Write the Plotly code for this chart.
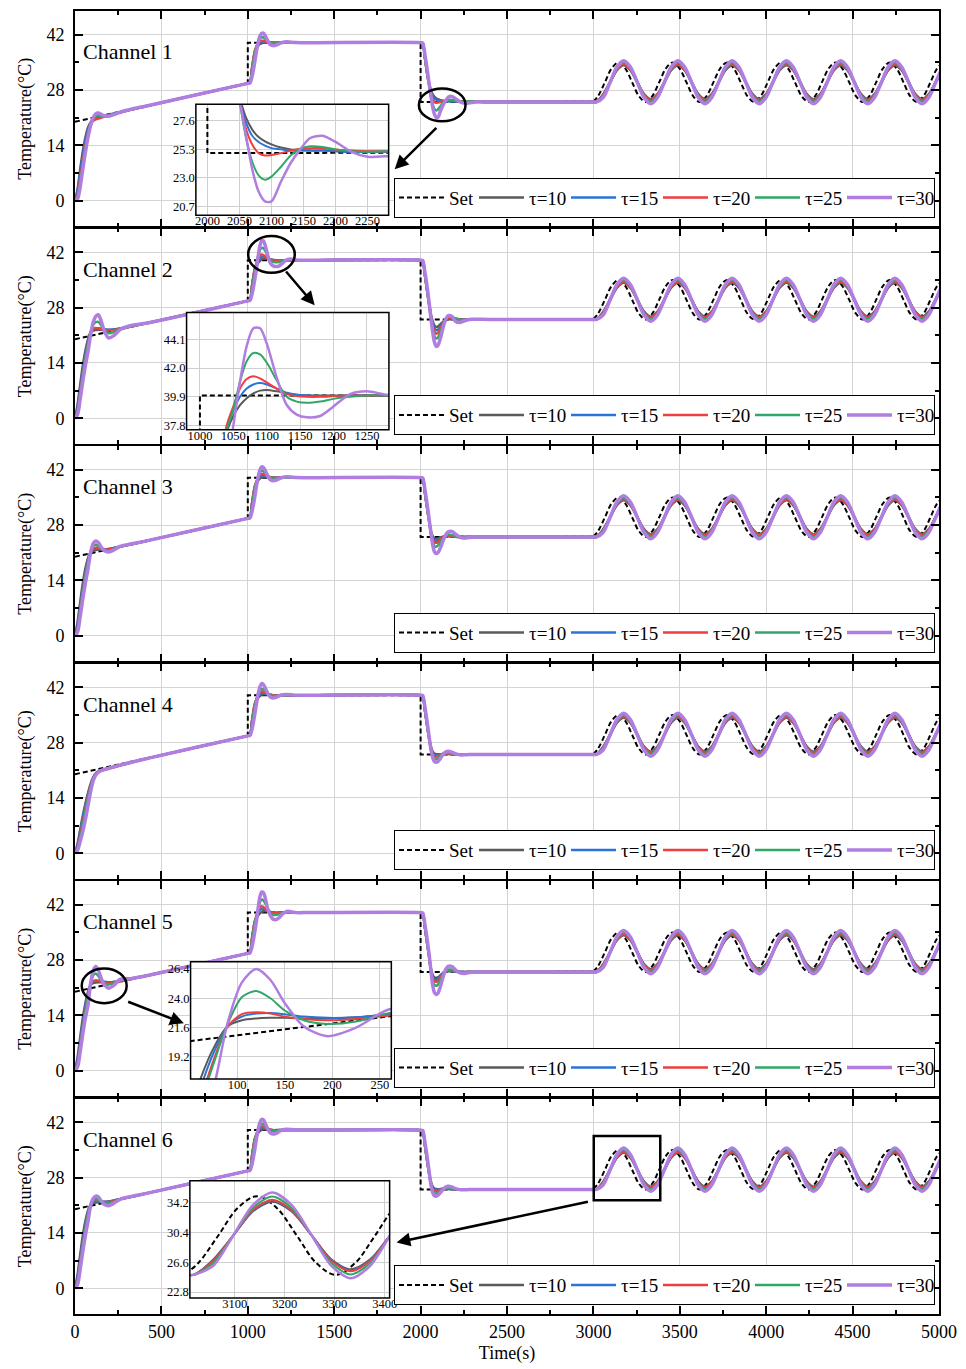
import plotly.graph_objects as go

# ---------------- time grids (s) ----------------
T_START = [0, 15, 30, 45, 60, 75, 90, 105, 120, 135, 150, 170, 195, 225, 260, 320, 420]
T_UP = [1000, 1012, 1025, 1040, 1050, 1060, 1070, 1080, 1090, 1100, 1115, 1130, 1145,
        1160, 1180, 1200, 1225, 1250, 1280, 1320, 1400]
T_DOWN = [2000, 2012, 2025, 2040, 2050, 2060, 2070, 2080, 2090, 2100, 2115, 2130, 2145,
          2160, 2180, 2200, 2225, 2250, 2280, 2320, 2400]
T_SINE_SET = [3000, 3027, 3067, 3106, 3145, 3184, 3224, 3263, 3302, 3341, 3381, 3420, 3459,
              3498, 3538, 3577, 3616, 3655, 3695, 3734, 3773, 3812, 3852, 3891, 3930, 3969,
              4009, 4048, 4087, 4126, 4166, 4205, 4244, 4283, 4323, 4362, 4401, 4440, 4480,
              4519, 4558, 4597, 4637, 4676, 4715, 4754, 4794, 4833, 4872, 4911, 4951, 4990, 5029]
T_SINE_RESP = [3000, 3018, 3057, 3097, 3136, 3175, 3214, 3254, 3293, 3332, 3371, 3411, 3450,
               3489, 3528, 3568, 3607, 3646, 3685, 3725, 3764, 3803, 3842, 3882, 3921, 3960,
               3999, 4039, 4078, 4117, 4156, 4196, 4235, 4274, 4313, 4353, 4392, 4431, 4470,
               4510, 4549, 4588, 4627, 4667, 4706, 4745, 4784, 4824, 4863, 4902, 4941, 4981, 5020]

# ---------------- set-point ----------------
SET_STEP_T = [0, 1000, 1000, 2000, 2000, 3000]
SET_STEP_V = [20.0, 29.7, 40.0, 40.0, 25.0, 25.1]
SET_SINE_V = [25.1, 26.5, 30.0, 33.5,
              35.0, 33.5, 30.0, 26.5, 25.0, 26.5, 30.0, 33.5,
              35.0, 33.5, 30.0, 26.5, 25.0, 26.5, 30.0, 33.5,
              35.0, 33.5, 30.0, 26.5, 25.0, 26.5, 30.0, 33.5,
              35.0, 33.5, 30.0, 26.5, 25.0, 26.5, 30.0, 33.5,
              35.0, 33.5, 30.0, 26.5, 25.0, 26.5, 30.0, 33.5,
              35.0, 33.5, 30.0, 26.5, 25.0, 26.5, 30.0, 33.5,
              35.0]

TAU_LABELS = ["τ=10", "τ=15", "τ=20", "τ=25", "τ=30"]
TAU_COLORS = ["#5a5a5a", "#2a74d8", "#ee3e3e", "#30a766", "#b07ee0"]

# shared beginnings of the step responses (order: tau10..tau30)
UP_HEAD = [[29.7, 29.8, 33.5, 37.3], [29.7, 29.8, 33.7, 37.6], [29.7, 29.8, 33.8, 37.8],
           [29.7, 29.8, 33.0, 37.4], [29.7, 29.8, 31.5, 35.0]]
DOWN_HEAD = [[40.0, 39.9, 36.3, 31.8], [40.0, 39.9, 36.2, 31.6], [40.0, 39.9, 36.1, 31.5],
             [40.0, 39.9, 36.2, 31.6], [40.0, 39.9, 37.0, 32.6]]

# sinusoidal tracking part (shared by channels)
SINE_T10 = [25.0, 25.0, 26.96, 30.0, 33.04, 34.3, 33.04, 30.0, 26.96,
            25.7, 26.96, 30.0, 33.04, 34.3, 33.04, 30.0, 26.96,
            25.7, 26.96, 30.0, 33.04, 34.3, 33.04, 30.0, 26.96,
            25.7, 26.96, 30.0, 33.04, 34.3, 33.04, 30.0, 26.96,
            25.7, 26.96, 30.0, 33.04, 34.3, 33.04, 30.0, 26.96,
            25.7, 26.96, 30.0, 33.04, 34.3, 33.04, 30.0, 26.96,
            25.7, 26.96, 30.0, 33.04]
SINE_T15 = [25.0, 25.0, 26.85, 30.0, 33.15, 34.45, 33.15, 30.0, 26.85,
            25.55, 26.85, 30.0, 33.15, 34.45, 33.15, 30.0, 26.85,
            25.55, 26.85, 30.0, 33.15, 34.45, 33.15, 30.0, 26.85,
            25.55, 26.85, 30.0, 33.15, 34.45, 33.15, 30.0, 26.85,
            25.55, 26.85, 30.0, 33.15, 34.45, 33.15, 30.0, 26.85,
            25.55, 26.85, 30.0, 33.15, 34.45, 33.15, 30.0, 26.85,
            25.55, 26.85, 30.0, 33.15]
SINE_T20 = [25.0, 25.0, 26.78, 30.0, 33.22, 34.55, 33.22, 30.0, 26.78,
            25.45, 26.78, 30.0, 33.22, 34.55, 33.22, 30.0, 26.78,
            25.45, 26.78, 30.0, 33.22, 34.55, 33.22, 30.0, 26.78,
            25.45, 26.78, 30.0, 33.22, 34.55, 33.22, 30.0, 26.78,
            25.45, 26.78, 30.0, 33.22, 34.55, 33.22, 30.0, 26.78,
            25.45, 26.78, 30.0, 33.22, 34.55, 33.22, 30.0, 26.78,
            25.45, 26.78, 30.0, 33.22]
SINE_T25 = [25.0, 25.0, 26.5, 30.0, 33.5, 34.95, 33.5, 30.0, 26.5,
            25.05, 26.5, 30.0, 33.5, 34.95, 33.5, 30.0, 26.5,
            25.05, 26.5, 30.0, 33.5, 34.95, 33.5, 30.0, 26.5,
            25.05, 26.5, 30.0, 33.5, 34.95, 33.5, 30.0, 26.5,
            25.05, 26.5, 30.0, 33.5, 34.95, 33.5, 30.0, 26.5,
            25.05, 26.5, 30.0, 33.5, 34.95, 33.5, 30.0, 26.5,
            25.05, 26.5, 30.0, 33.5]
SINE_T30 = [25.0, 25.0, 26.15, 30.0, 33.85, 35.45, 33.85, 30.0, 26.15,
            24.55, 26.15, 30.0, 33.85, 35.45, 33.85, 30.0, 26.15,
            24.55, 26.15, 30.0, 33.85, 35.45, 33.85, 30.0, 26.15,
            24.55, 26.15, 30.0, 33.85, 35.45, 33.85, 30.0, 26.15,
            24.55, 26.15, 30.0, 33.85, 35.45, 33.85, 30.0, 26.15,
            24.55, 26.15, 30.0, 33.85, 35.45, 33.85, 30.0, 26.15,
            24.55, 26.15, 30.0, 33.85]
SINE_RESP = [SINE_T10, SINE_T15, SINE_T20, SINE_T25, SINE_T30]

# ---------------- channel 1 ----------------
CH1_START = [
    [0, 3.0, 8.0, 12.5, 16.0, 18.5, 19.8, 20.5, 20.8, 21.0, 21.2, 21.45, 21.7, 22.0, 22.4, 23.0, 24.0],
    [0, 2.5, 7.0, 11.5, 15.2, 18.0, 19.6, 20.5, 21.0, 21.2, 21.3, 21.45, 21.7, 22.0, 22.4, 23.0, 24.0],
    [0, 1.5, 5.5, 10.0, 14.0, 17.2, 19.2, 20.2, 20.6, 20.8, 21.0, 21.3, 21.6, 21.95, 22.35, 23.0, 24.0],
    [0, 1.0, 4.5, 9.0, 13.2, 16.8, 19.3, 20.8, 21.5, 21.6, 21.4, 21.3, 21.5, 21.95, 22.4, 23.05, 24.05],
    [0, 0.5, 3.5, 8.0, 12.2, 16.0, 19.0, 21.0, 22.0, 22.2, 21.9, 21.5, 21.4, 21.8, 22.4, 23.1, 24.05]]
CH1_UP = [
    [38.5, 39.2, 39.65, 39.85, 39.95, 40.0, 40.0, 40.0, 40.0, 40.0, 40.0, 40.0, 40.0, 40.0, 40.0, 40.0, 40.0],
    [38.9, 39.7, 40.1, 40.3, 40.3, 40.25, 40.1, 40.0, 40.0, 40.0, 40.0, 40.0, 40.0, 40.0, 40.0, 40.0, 40.0],
    [39.0, 39.9, 40.35, 40.5, 40.45, 40.35, 40.15, 40.0, 39.95, 39.95, 40.0, 40.0, 40.0, 40.0, 40.0, 40.0, 40.0],
    [38.8, 40.1, 41.0, 41.35, 41.3, 41.0, 40.4, 39.95, 39.8, 39.8, 39.9, 40.0, 40.0, 40.0, 40.0, 40.0, 40.0],
    [37.8, 40.0, 41.6, 42.3, 42.4, 41.8, 40.5, 39.5, 39.25, 39.3, 39.7, 40.05, 40.2, 40.1, 40.05, 40.0, 40.0]]
CH1_DOWN = [
    [29.6, 27.9, 26.9, 26.3, 25.95, 25.7, 25.45, 25.3, 25.25, 25.2, 25.2, 25.15, 25.1, 25.1, 25.1, 25.05, 25.0],
    [29.4, 27.5, 26.4, 25.9, 25.6, 25.4, 25.3, 25.2, 25.2, 25.2, 25.2, 25.15, 25.1, 25.1, 25.1, 25.05, 25.0],
    [29.3, 27.0, 25.7, 25.0, 24.8, 24.85, 25.0, 25.2, 25.35, 25.4, 25.4, 25.3, 25.2, 25.15, 25.15, 25.05, 25.0],
    [29.2, 26.3, 24.3, 23.2, 22.85, 23.1, 23.9, 24.8, 25.35, 25.55, 25.5, 25.3, 25.15, 25.1, 25.15, 25.05, 25.0],
    [29.4, 26.5, 23.7, 21.9, 21.1, 21.1, 22.7, 24.2, 25.3, 26.2, 26.4, 25.9, 25.1, 24.7, 24.75, 25.0, 25.0]]

# ---------------- channel 2 ----------------
CH2_START = [
    [0, 3.5, 8.5, 13.3, 17.1, 19.9, 21.7, 22.2, 22.35, 22.4, 22.4, 22.35, 22.35, 22.45, 22.7, 23.2, 24.1],
    [0, 2.8, 7.5, 12.2, 16.3, 19.5, 21.7, 22.5, 22.75, 22.8, 22.7, 22.5, 22.4, 22.45, 22.7, 23.2, 24.1],
    [0, 2.0, 6.5, 11.2, 15.3, 18.9, 21.7, 22.7, 22.85, 22.75, 22.5, 22.3, 22.2, 22.3, 22.6, 23.15, 24.1],
    [0, 1.8, 6.0, 10.8, 15.0, 18.6, 21.7, 23.6, 24.3, 24.4, 23.6, 22.3, 21.5, 21.8, 22.6, 23.2, 24.1],
    [0, 1.0, 4.8, 9.3, 13.3, 16.8, 21.0, 24.2, 25.8, 26.2, 24.8, 22.0, 20.3, 20.9, 22.4, 23.4, 24.1]]
CH2_UP = [
    [38.5, 39.3, 39.8, 40.15, 40.35, 40.4, 40.3, 40.15, 40.05, 40.0, 40.0, 40.0, 40.0, 40.0, 40.0, 40.0, 40.0],
    [38.9, 39.9, 40.5, 40.8, 40.9, 40.8, 40.5, 40.2, 40.05, 40.0, 39.95, 39.95, 40.0, 40.0, 40.0, 40.0, 40.0],
    [39.2, 40.5, 41.2, 41.4, 41.25, 40.95, 40.5, 40.1, 39.95, 39.9, 39.9, 39.95, 40.0, 40.0, 40.0, 40.0, 40.0],
    [39.0, 41.0, 42.5, 43.1, 43.0, 42.4, 41.1, 39.9, 39.55, 39.46, 39.55, 39.75, 39.9, 40.0, 40.0, 40.0, 40.0],
    [37.8, 41.0, 43.6, 44.9, 44.9, 43.8, 41.3, 39.3, 38.6, 38.4, 38.5, 39.2, 40.1, 40.3, 40.05, 39.98, 40.0]]
CH2_DOWN = [
    [28.8, 26.2, 24.5, 23.5, 23.1, 23.2, 23.8, 24.4, 24.8, 25.0, 25.1, 25.1, 25.05, 25.0, 25.0, 25.0, 25.0],
    [28.7, 25.9, 24.0, 22.8, 22.3, 22.4, 23.2, 24.2, 24.9, 25.2, 25.25, 25.15, 25.05, 25.0, 25.0, 25.0, 25.0],
    [28.6, 25.6, 23.3, 21.9, 21.4, 21.6, 22.8, 24.1, 25.0, 25.4, 25.45, 25.2, 25.0, 24.95, 25.0, 25.0, 25.0],
    [28.6, 25.2, 22.5, 20.8, 20.2, 20.4, 21.9, 23.8, 25.1, 25.7, 25.75, 25.3, 24.9, 24.85, 25.0, 25.0, 25.0],
    [29.0, 25.3, 21.8, 19.3, 18.2, 18.4, 20.3, 22.9, 25.0, 25.95, 25.8, 24.6, 24.2, 24.6, 25.0, 25.05, 25.0]]

# ---------------- channel 3 ----------------
CH3_START = [
    [0, 3.5, 8.5, 13.3, 17.0, 19.6, 21.0, 21.5, 21.7, 21.8, 21.8, 21.85, 21.95, 22.2, 22.55, 23.1, 24.07],
    [0, 2.8, 7.5, 12.2, 16.2, 19.3, 21.1, 21.8, 22.0, 22.05, 22.0, 21.9, 21.95, 22.2, 22.55, 23.1, 24.07],
    [0, 2.0, 6.5, 11.2, 15.3, 18.7, 21.0, 22.0, 22.3, 22.2, 22.0, 21.8, 21.8, 22.1, 22.5, 23.1, 24.07],
    [0, 1.8, 6.0, 10.8, 15.0, 18.5, 21.3, 22.7, 23.0, 22.7, 22.1, 21.6, 21.5, 21.9, 22.5, 23.1, 24.07],
    [0, 1.0, 4.8, 9.3, 13.3, 16.8, 21.0, 23.3, 24.0, 23.6, 22.5, 21.5, 21.2, 21.7, 22.6, 23.2, 24.07]]
CH3_UP = [
    [38.5, 39.3, 39.8, 40.05, 40.2, 40.2, 40.15, 40.05, 40.0, 40.0, 40.0, 40.0, 40.0, 40.0, 40.0, 40.0, 40.0],
    [38.9, 39.9, 40.35, 40.55, 40.55, 40.45, 40.25, 40.1, 40.0, 39.98, 40.0, 40.0, 40.0, 40.0, 40.0, 40.0, 40.0],
    [39.0, 40.1, 40.7, 40.9, 40.85, 40.65, 40.35, 40.1, 39.95, 39.9, 39.95, 40.0, 40.0, 40.0, 40.0, 40.0, 40.0],
    [38.8, 40.3, 41.3, 41.7, 41.6, 41.2, 40.5, 39.95, 39.75, 39.75, 39.85, 39.95, 40.0, 40.0, 40.0, 40.0, 40.0],
    [37.8, 40.2, 41.9, 42.7, 42.6, 41.9, 40.5, 39.5, 39.2, 39.3, 39.7, 40.05, 40.2, 40.15, 40.05, 40.0, 40.0]]
CH3_DOWN = [
    [29.0, 26.5, 25.2, 24.7, 24.55, 24.6, 24.85, 25.05, 25.15, 25.15, 25.1, 25.05, 25.0, 25.0, 25.0, 25.0, 25.0],
    [28.9, 26.1, 24.7, 24.1, 24.0, 24.15, 24.6, 25.0, 25.2, 25.25, 25.2, 25.1, 25.0, 25.0, 25.0, 25.0, 25.0],
    [28.9, 25.9, 24.3, 23.6, 23.5, 23.7, 24.3, 24.9, 25.25, 25.35, 25.3, 25.15, 25.05, 25.0, 25.0, 25.0, 25.0],
    [29.0, 25.8, 23.7, 22.7, 22.5, 22.8, 23.7, 24.6, 25.3, 25.6, 25.5, 25.25, 25.05, 25.0, 25.0, 25.0, 25.0],
    [29.3, 26.0, 23.0, 21.3, 20.8, 21.0, 22.3, 24.0, 25.5, 26.3, 26.4, 25.8, 25.0, 24.7, 24.85, 25.0, 25.0]]

# ---------------- channel 4 ----------------
CH4_START = [
    [0, 2.5, 6.0, 9.5, 12.5, 15.2, 17.5, 19.2, 20.2, 20.7, 21.0, 21.25, 21.55, 21.9, 22.3, 22.95, 24.0],
    [0, 2.0, 5.3, 8.8, 12.0, 14.8, 17.2, 19.0, 20.1, 20.6, 20.95, 21.2, 21.5, 21.85, 22.25, 22.9, 24.0],
    [0, 1.5, 4.5, 8.0, 11.2, 14.2, 16.8, 18.7, 19.9, 20.5, 20.85, 21.1, 21.4, 21.75, 22.2, 22.9, 24.0],
    [0, 1.2, 3.8, 7.2, 10.6, 13.7, 16.5, 18.6, 19.9, 20.55, 20.9, 21.2, 21.5, 21.85, 22.3, 22.95, 24.0],
    [0, 0.8, 3.0, 5.5, 8.5, 12.0, 15.5, 18.3, 19.8, 20.5, 20.9, 21.2, 21.5, 21.85, 22.3, 22.95, 24.0]]
CH4_UP = [
    [38.5, 39.3, 39.8, 40.05, 40.2, 40.2, 40.15, 40.05, 40.0, 40.0, 40.0, 40.0, 40.0, 40.0, 40.0, 40.0, 40.0],
    [38.9, 39.9, 40.35, 40.55, 40.55, 40.45, 40.25, 40.1, 40.0, 39.98, 40.0, 40.0, 40.0, 40.0, 40.0, 40.0, 40.0],
    [39.0, 40.1, 40.7, 40.9, 40.85, 40.65, 40.35, 40.1, 39.95, 39.9, 39.95, 40.0, 40.0, 40.0, 40.0, 40.0, 40.0],
    [38.8, 40.2, 41.1, 41.5, 41.45, 41.1, 40.45, 39.95, 39.8, 39.8, 39.9, 39.97, 40.0, 40.0, 40.0, 40.0, 40.0],
    [37.8, 40.3, 42.1, 42.9, 42.7, 41.9, 40.5, 39.5, 39.3, 39.4, 39.8, 40.1, 40.15, 40.1, 40.0, 40.0, 40.0]]
CH4_DOWN = [
    [29.0, 26.9, 25.7, 25.2, 25.05, 25.0, 25.05, 25.1, 25.1, 25.1, 25.05, 25.0, 25.0, 25.0, 25.0, 25.0, 25.0],
    [28.9, 26.5, 25.3, 24.85, 24.8, 24.85, 25.0, 25.15, 25.2, 25.2, 25.1, 25.05, 25.0, 25.0, 25.0, 25.0, 25.0],
    [28.9, 26.3, 25.0, 24.5, 24.45, 24.6, 24.9, 25.15, 25.25, 25.25, 25.15, 25.05, 25.0, 25.0, 25.0, 25.0, 25.0],
    [29.0, 26.2, 24.6, 23.9, 23.8, 24.0, 24.6, 25.1, 25.35, 25.4, 25.3, 25.1, 25.0, 25.0, 25.0, 25.0, 25.0],
    [29.3, 26.3, 24.2, 23.2, 23.0, 23.2, 24.0, 25.0, 25.6, 25.8, 25.6, 25.2, 24.9, 24.9, 25.0, 25.0, 25.0]]

# ---------------- channel 5 ----------------
CH5_START = [
    [0, 3.5, 8.5, 13.3, 17.1, 19.9, 21.7, 22.2, 22.35, 22.4, 22.4, 22.35, 22.35, 22.45, 22.7, 23.2, 24.1],
    [0, 2.8, 7.5, 12.2, 16.3, 19.5, 21.7, 22.5, 22.75, 22.8, 22.7, 22.5, 22.4, 22.45, 22.7, 23.2, 24.1],
    [0, 2.0, 6.5, 11.2, 15.3, 18.9, 21.7, 22.7, 22.85, 22.75, 22.5, 22.3, 22.2, 22.3, 22.6, 23.15, 24.1],
    [0, 1.8, 6.0, 10.8, 15.0, 18.6, 21.9, 24.1, 24.6, 24.0, 23.0, 22.2, 21.9, 22.1, 22.8, 23.3, 24.1],
    [0, 1.0, 4.8, 9.3, 13.3, 16.6, 22.0, 25.3, 26.4, 25.5, 23.6, 21.7, 20.9, 21.6, 23.1, 23.3, 24.1]]
CH5_UP = [
    [38.5, 39.3, 39.8, 40.15, 40.35, 40.4, 40.3, 40.15, 40.05, 40.0, 40.0, 40.0, 40.0, 40.0, 40.0, 40.0, 40.0],
    [38.9, 40.0, 40.6, 40.95, 41.0, 40.85, 40.5, 40.2, 40.05, 39.98, 39.98, 40.0, 40.0, 40.0, 40.0, 40.0, 40.0],
    [39.2, 40.6, 41.4, 41.6, 41.4, 41.0, 40.5, 40.1, 39.9, 39.85, 39.9, 40.0, 40.0, 40.0, 40.0, 40.0, 40.0],
    [38.9, 40.9, 42.6, 43.3, 43.1, 42.4, 41.0, 39.8, 39.4, 39.4, 39.6, 39.85, 40.0, 40.05, 40.0, 40.0, 40.0],
    [37.8, 41.2, 44.0, 45.2, 45.1, 43.9, 41.0, 39.3, 38.4, 38.2, 38.7, 39.6, 40.3, 40.25, 40.0, 40.0, 40.0]]
CH5_DOWN = [
    [28.8, 25.8, 24.2, 23.6, 23.5, 23.6, 24.2, 24.7, 25.0, 25.15, 25.15, 25.05, 25.0, 25.0, 25.0, 25.0, 25.0],
    [28.7, 25.4, 23.7, 23.1, 23.0, 23.2, 23.9, 24.6, 25.05, 25.25, 25.25, 25.1, 25.0, 25.0, 25.0, 25.0, 25.0],
    [28.7, 25.2, 23.3, 22.6, 22.5, 22.7, 23.6, 24.5, 25.1, 25.35, 25.35, 25.15, 25.0, 24.95, 25.0, 25.0, 25.0],
    [28.8, 25.0, 22.7, 21.7, 21.5, 21.8, 23.0, 24.3, 25.2, 25.6, 25.6, 25.25, 24.95, 24.9, 25.0, 25.0, 25.0],
    [29.2, 25.2, 21.6, 19.8, 19.3, 19.6, 21.4, 23.7, 25.6, 26.4, 26.4, 25.6, 24.8, 24.6, 24.85, 25.0, 25.0]]

# ---------------- channel 6 ----------------
CH6_START = [
    [0, 3.5, 8.5, 13.3, 17.0, 19.6, 21.0, 21.5, 21.7, 21.8, 21.8, 21.85, 21.95, 22.2, 22.55, 23.1, 24.07],
    [0, 2.8, 7.5, 12.2, 16.2, 19.3, 21.1, 21.8, 22.0, 22.05, 22.0, 21.9, 21.95, 22.2, 22.55, 23.1, 24.07],
    [0, 2.0, 6.5, 11.2, 15.3, 18.7, 21.0, 22.0, 22.3, 22.2, 22.0, 21.8, 21.8, 22.1, 22.5, 23.1, 24.07],
    [0, 1.8, 6.0, 10.8, 15.0, 18.5, 21.2, 22.4, 22.6, 22.4, 21.9, 21.5, 21.5, 21.9, 22.5, 23.1, 24.07],
    [0, 1.0, 4.8, 9.3, 13.3, 16.8, 20.8, 22.7, 23.3, 23.1, 22.2, 21.2, 20.9, 21.5, 22.5, 23.2, 24.07]]
CH6_UP = [
    [38.5, 39.3, 39.8, 40.05, 40.2, 40.2, 40.15, 40.05, 40.0, 40.0, 40.0, 40.0, 40.0, 40.0, 40.0, 40.0, 40.0],
    [38.9, 39.9, 40.35, 40.55, 40.55, 40.45, 40.25, 40.1, 40.0, 39.98, 40.0, 40.0, 40.0, 40.0, 40.0, 40.0, 40.0],
    [39.0, 40.1, 40.7, 40.9, 40.85, 40.65, 40.35, 40.1, 39.95, 39.9, 39.95, 40.0, 40.0, 40.0, 40.0, 40.0, 40.0],
    [38.8, 40.2, 41.2, 41.6, 41.5, 41.1, 40.45, 39.95, 39.75, 39.75, 39.85, 39.95, 40.0, 40.0, 40.0, 40.0, 40.0],
    [37.8, 40.2, 41.9, 42.75, 42.6, 41.8, 40.3, 39.3, 39.0, 39.1, 39.6, 40.05, 40.25, 40.15, 40.05, 40.0, 40.0]]
CH6_DOWN = [
    [29.0, 26.9, 25.7, 25.25, 25.1, 25.05, 25.1, 25.15, 25.1, 25.1, 25.05, 25.0, 25.0, 25.0, 25.0, 25.0, 25.0],
    [28.9, 26.5, 25.3, 24.95, 24.9, 24.95, 25.05, 25.2, 25.2, 25.15, 25.1, 25.0, 25.0, 25.0, 25.0, 25.0, 25.0],
    [28.9, 26.3, 25.0, 24.6, 24.6, 24.7, 24.95, 25.2, 25.3, 25.3, 25.15, 25.05, 25.0, 25.0, 25.0, 25.0, 25.0],
    [29.0, 26.2, 24.7, 24.1, 24.0, 24.2, 24.7, 25.15, 25.4, 25.45, 25.3, 25.1, 25.0, 25.0, 25.0, 25.0, 25.0],
    [29.3, 26.2, 24.2, 23.4, 23.3, 23.5, 24.2, 25.0, 25.6, 25.8, 25.65, 25.25, 24.95, 24.9, 25.0, 25.0, 25.0]]

CHANNELS = [
    ("Channel 1", CH1_START, CH1_UP, CH1_DOWN),
    ("Channel 2", CH2_START, CH2_UP, CH2_DOWN),
    ("Channel 3", CH3_START, CH3_UP, CH3_DOWN),
    ("Channel 4", CH4_START, CH4_UP, CH4_DOWN),
    ("Channel 5", CH5_START, CH5_UP, CH5_DOWN),
    ("Channel 6", CH6_START, CH6_UP, CH6_DOWN),
]

# inset definitions: panel index -> (x range, y range, x ticks, y ticks, box in px)
INSETS = {
    1: dict(xr=[1982, 2283], yr=[19.98, 28.94], xt=[2000, 2050, 2100, 2150, 2200, 2250],
            yt=[20.7, 23.0, 25.3, 27.6], px=[196, 389, 102.7, 214]),
    2: dict(xr=[980, 1283], yr=[37.5, 46.05], xt=[1000, 1050, 1100, 1150, 1200, 1250],
            yt=[37.8, 39.9, 42.0, 44.1], px=[186.7, 389.3, 311.7, 429.3]),
    5: dict(xr=[51, 262], yr=[17.4, 27.0], xt=[100, 150, 200, 250],
            yt=[19.2, 21.6, 24.0, 26.4], px=[190.7, 391.7, 963.3, 1081]),
    6: dict(xr=[3010, 3410], yr=[22.04, 36.95], xt=[3100, 3200, 3300, 3400],
            yt=[22.8, 26.6, 30.4, 34.2], px=[190, 390, 1183.3, 1301]),
}
INSET_AXIS = {1: 7, 2: 8, 5: 9, 6: 10}

# ---------------- figure geometry ----------------
W, H = 966, 1369
ML, MR, MT, MB = 75, 26, 9, 52
PW = W - ML - MR
PH = H - MT - MB
GAP = 2.0                      # px gap between panels so frame lines coincide
PANEL_H = (PH - 5 * GAP) / 6
FONT = "Liberation Serif"


def pxx(p):
    return (p - ML) / PW


def pxy(p):
    return 1 - (p - MT) / PH


fig = go.Figure()

resp_x = T_START + T_UP + T_DOWN + T_SINE_RESP
for ci, (name, st, up, dn) in enumerate(CHANNELS):
    i = ci + 1
    xa = "x" if i == 1 else f"x{i}"
    ya = "y" if i == 1 else f"y{i}"
    lg = "legend" if i == 1 else f"legend{i}"
    fig.add_trace(go.Scatter(x=SET_STEP_T, y=SET_STEP_V, mode="lines", name="Set",
                             line=dict(color="black", width=2, dash="5px,3px"),
                             xaxis=xa, yaxis=ya, legend=lg, legendgroup=f"set{i}",
                             legendwidth=20))
    fig.add_trace(go.Scatter(x=T_SINE_SET, y=SET_SINE_V, mode="lines", name="Set",
                             line=dict(color="black", width=2, dash="5px,3px", shape="spline"),
                             xaxis=xa, yaxis=ya, legend=lg, legendgroup=f"set{i}", showlegend=False))
    for k in range(5):
        yv = st[k] + UP_HEAD[k] + up[k] + DOWN_HEAD[k] + dn[k] + SINE_RESP[k]
        assert len(yv) == len(resp_x), (name, k, len(yv), len(resp_x))
        fig.add_trace(go.Scatter(x=resp_x, y=yv, mode="lines", name=TAU_LABELS[k],
                                 line=dict(color=TAU_COLORS[k], width=3.5 if k == 4 else 2.5,
                                           shape="spline", smoothing=0.8),
                                 xaxis=xa, yaxis=ya, legend=lg))
    if i in INSETS:
        j = INSET_AXIS[i]
        fig.add_trace(go.Scatter(x=SET_STEP_T, y=SET_STEP_V, mode="lines", showlegend=False,
                                 line=dict(color="black", width=2, dash="5px,3px"),
                                 xaxis=f"x{j}", yaxis=f"y{j}"))
        fig.add_trace(go.Scatter(x=T_SINE_SET, y=SET_SINE_V, mode="lines", showlegend=False,
                                 line=dict(color="black", width=2, dash="5px,3px", shape="spline"),
                                 xaxis=f"x{j}", yaxis=f"y{j}"))
        for k in range(5):
            yv = st[k] + UP_HEAD[k] + up[k] + DOWN_HEAD[k] + dn[k] + SINE_RESP[k]
            fig.add_trace(go.Scatter(x=resp_x, y=yv, mode="lines", showlegend=False,
                                     line=dict(color=TAU_COLORS[k], width=2.5 if k == 4 else 2.0,
                                               shape="spline", smoothing=0.8),
                                     xaxis=f"x{j}", yaxis=f"y{j}"))

layout = dict(width=W, height=H, margin=dict(l=ML, r=MR, t=MT, b=MB),
              paper_bgcolor="white", plot_bgcolor="white",
              font=dict(family=FONT, size=18, color="black"), showlegend=True)

XT = list(range(0, 5001, 500))
XM = list(range(250, 5000, 500))
for i in range(1, 7):
    key_x = "xaxis" if i == 1 else f"xaxis{i}"
    key_y = "yaxis" if i == 1 else f"yaxis{i}"
    top_px = (i - 1) * (PANEL_H + GAP)
    bot_px = top_px + PANEL_H
    d0 = 1 - bot_px / PH
    d1 = 1 - top_px / PH
    layout[key_x] = dict(domain=[0, 1], range=[0, 5000], anchor="y" if i == 1 else f"y{i}",
                         tickvals=XT, ticks="inside", ticklen=8, tickwidth=2, tickcolor="black",
                         showline=True, linewidth=2, linecolor="black", mirror="ticks",
                         showgrid=True, gridcolor="#d4d4d4", gridwidth=1, zeroline=False,
                         minor=dict(tickvals=XM, ticks="inside", ticklen=4, tickwidth=1.5,
                                    tickcolor="black", showgrid=False),
                         showticklabels=(i == 6), tickfont=dict(size=18, family=FONT))
    if i == 6:
        layout[key_x]["title"] = dict(text="Time(s)", font=dict(size=18, family=FONT), standoff=6)
    else:
        layout[key_x]["matches"] = "x6"
    layout[key_y] = dict(domain=[d0, d1], range=[-6.5, 48], anchor="x" if i == 1 else f"x{i}",
                         tickvals=[0, 14, 28, 42], ticks="inside", ticklen=8, tickwidth=2,
                         tickcolor="black", showline=True, linewidth=2, linecolor="black",
                         mirror="ticks", showgrid=True, gridcolor="#d4d4d4", gridwidth=1,
                         zeroline=False, ticklabelstandoff=5,
                         minor=dict(tickvals=[7, 21, 35], ticks="inside", ticklen=4,
                                    tickwidth=1.5, tickcolor="black", showgrid=False),
                         tickfont=dict(size=18, family=FONT),
                         title=dict(text="Temperature(°C)", font=dict(size=18, family=FONT),
                                    standoff=10))
    lg = "legend" if i == 1 else f"legend{i}"
    layout[lg] = dict(orientation="h", x=pxx(936), xanchor="right",
                      y=d0 + 9 / PH, yanchor="bottom", bgcolor="white",
                      bordercolor="black", borderwidth=1,
                      font=dict(size=19, family=FONT), itemwidth=45, entrywidth=32,
                      tracegroupgap=0)

shapes = []
for i, ins in INSETS.items():
    j = INSET_AXIS[i]
    x0, x1, y0, y1 = ins["px"]
    layout[f"xaxis{j}"] = dict(domain=[pxx(x0), pxx(x1)], range=ins["xr"], anchor="free",
                               position=pxy(y1) + 3.5 / PH,
                               tickvals=ins["xt"], ticks="", showline=False, showgrid=True,
                               gridcolor="#cfcfcf", zeroline=False,
                               tickfont=dict(size=12.5, family=FONT))
    layout[f"yaxis{j}"] = dict(domain=[pxy(y1), pxy(y0)], range=ins["yr"], anchor=f"x{j}",
                               tickvals=ins["yt"], ticktext=[f"{v:.1f}" for v in ins["yt"]],
                               ticks="", showline=False, showgrid=True, gridcolor="#cfcfcf",
                               zeroline=False, tickfont=dict(size=12.5, family=FONT))
    shapes.append(dict(type="rect", xref=f"x{j} domain", yref=f"y{j} domain",
                       x0=0, x1=1, y0=0, y1=1, line=dict(color="black", width=1.5),
                       layer="above"))

annotations = []
for ci, (name, _, _, _) in enumerate(CHANNELS):
    i = ci + 1
    sx = "x" if i == 1 else f"x{i}"
    sy = "y" if i == 1 else f"y{i}"
    annotations.append(dict(text=name, xref=f"{sx} domain", yref=f"{sy} domain", x=0.007, y=0.81,
                            xanchor="left", yanchor="middle", showarrow=False,
                            font=dict(size=22, family=FONT)))

# arrows: (panel, tail t, tail v, head t, head v)
ARROWS = [(1, 2100, 18.8, 1850, 8.0), (2, 1214, 37.5, 1387, 28.6),
          (5, 299, 17.6, 630, 12.0), (6, 2977, 21.95, 1861, 11.6)]
for (i, tx, tv, hx, hv) in ARROWS:
    sx = "x" if i == 1 else f"x{i}"
    sy = "y" if i == 1 else f"y{i}"
    annotations.append(dict(x=hx, y=hv, ax=tx, ay=tv, xref=sx, yref=sy, axref=sx, ayref=sy,
                            showarrow=True, arrowhead=2, arrowsize=1.1, arrowwidth=2.5,
                            arrowcolor="black", text=""))
layout["annotations"] = annotations

# highlight marks: (panel, kind, t0, t1, v0, v1)
MARKS = [(1, "circle", 1990, 2260, 20.1, 28.4), (2, "circle", 1002, 1272, 36.8, 46.1),
         (5, "circle", 39, 299, 17.1, 25.9), (6, "rect", 3002, 3387, 22.25, 38.5)]
for (i, kind, t0, t1, v0, v1) in MARKS:
    sx = "x" if i == 1 else f"x{i}"
    sy = "y" if i == 1 else f"y{i}"
    shapes.append(dict(type=kind, xref=sx, yref=sy, x0=t0, x1=t1, y0=v0, y1=v1,
                       line=dict(color="black", width=2.5), layer="above"))
layout["shapes"] = shapes

fig.update_layout(**layout)
fig.write_html("out.html", config={"displayModeBar": False},
               post_script="document.body.style.margin='0px';")
